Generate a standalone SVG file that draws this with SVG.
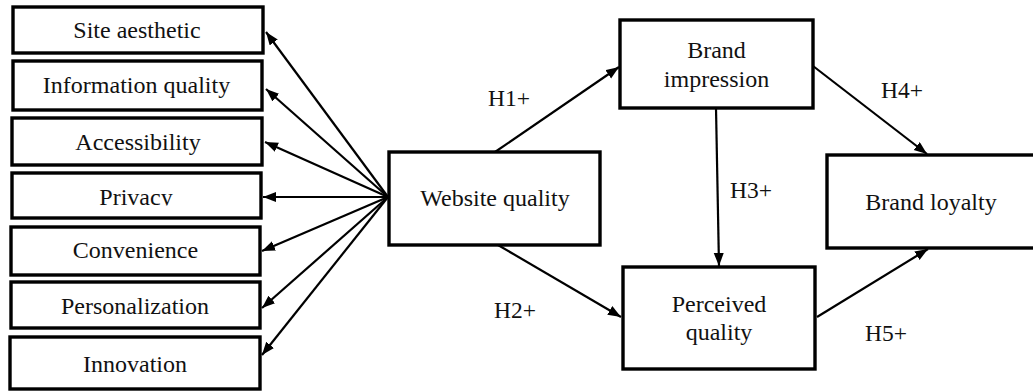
<svg xmlns="http://www.w3.org/2000/svg" width="1033" height="392" viewBox="0 0 1033 392">
  <style>
    .box { fill: #ffffff; stroke: #000000; stroke-width: 3.4; }
    .lbl { font-family: "Liberation Serif", "Times New Roman", serif; font-size: 24px; fill: #111111; text-anchor: middle; }
    .hyp { font-family: "Liberation Serif", "Times New Roman", serif; font-size: 23.5px; fill: #111111; text-anchor: middle; }
    .edge { stroke: #000000; stroke-width: 2.2; fill: none; marker-end: url(#arrow); }
  </style>
  <defs>
    <marker id="arrow" markerUnits="userSpaceOnUse" markerWidth="14" markerHeight="11" refX="13" refY="5" orient="auto">
      <path d="M0,0 L13,5 L0,10 z" fill="#000000"/>
    </marker>
    <clipPath id="privacyClip">
      <rect x="0" y="170" width="270" height="35.5"/>
    </clipPath>
  </defs>
  <rect width="1033" height="392" fill="#ffffff"/>

  <!-- dimensions of website quality -->
  <g id="site-aesthetic">
    <rect class="box" x="13" y="7" width="250" height="46"/>
    <text class="lbl" x="137" y="38">Site aesthetic</text>
  </g>
  <g id="information-quality">
    <rect class="box" x="13" y="61" width="249" height="49"/>
    <text class="lbl" x="136.5" y="93">Information quality</text>
  </g>
  <g id="accessibility">
    <rect class="box" x="12" y="118" width="250" height="47"/>
    <text class="lbl" x="138" y="150">Accessibility</text>
  </g>
  <g id="privacy">
    <rect class="box" x="12" y="173" width="249" height="45"/>
    <text class="lbl" x="136" y="205" clip-path="url(#privacyClip)">Privacy</text>
  </g>
  <g id="convenience">
    <rect class="box" x="11" y="227" width="249" height="48"/>
    <text class="lbl" x="135.5" y="258">Convenience</text>
  </g>
  <g id="personalization">
    <rect class="box" x="11" y="282" width="249" height="46"/>
    <text class="lbl" x="135" y="314">Personalization</text>
  </g>
  <g id="innovation">
    <rect class="box" x="10" y="337" width="250" height="52"/>
    <text class="lbl" x="135" y="372">Innovation</text>
  </g>

  <!-- constructs -->
  <g id="website-quality">
    <rect class="box" x="389" y="152" width="211" height="93"/>
    <text class="lbl" x="495" y="206">Website quality</text>
  </g>
  <g id="brand-impression">
    <rect class="box" x="620" y="20" width="193" height="88"/>
    <text class="lbl" x="716.5" y="58">Brand</text>
    <text class="lbl" x="716.5" y="87">impression</text>
  </g>
  <g id="perceived-quality">
    <rect class="box" x="623" y="267" width="192" height="102"/>
    <text class="lbl" x="719" y="312">Perceived</text>
    <text class="lbl" x="719" y="340">quality</text>
  </g>
  <g id="brand-loyalty">
    <rect class="box" x="827" y="155" width="220" height="93"/>
    <text class="lbl" x="931" y="210">Brand loyalty</text>
  </g>

  <!-- connectors -->
  <g id="connectors">
    <line class="edge" x1="388" y1="197" x2="266" y2="32"/>
    <line class="edge" x1="388" y1="197" x2="266" y2="89"/>
    <line class="edge" x1="388" y1="197" x2="265" y2="142"/>
    <line class="edge" x1="388" y1="197" x2="263" y2="197"/>
    <line class="edge" x1="388" y1="197" x2="262" y2="251"/>
    <line class="edge" x1="388" y1="197" x2="262" y2="308"/>
    <line class="edge" x1="388" y1="197" x2="262" y2="355"/>

    <line class="edge" x1="495" y1="152" x2="619" y2="67"/>
    <line class="edge" x1="498" y1="245" x2="621" y2="317"/>
    <line class="edge" x1="716" y1="108" x2="719" y2="266"/>
    <line class="edge" x1="813" y1="66" x2="927" y2="154"/>
    <line class="edge" x1="817" y1="317" x2="928" y2="249"/>
  </g>

  <!-- hypothesis labels -->
  <g id="hypotheses">
    <text class="hyp" x="509" y="106">H1+</text>
    <text class="hyp" x="515" y="318">H2+</text>
    <text class="hyp" x="751" y="198">H3+</text>
    <text class="hyp" x="902" y="98">H4+</text>
    <text class="hyp" x="886" y="341">H5+</text>
  </g>
</svg>
